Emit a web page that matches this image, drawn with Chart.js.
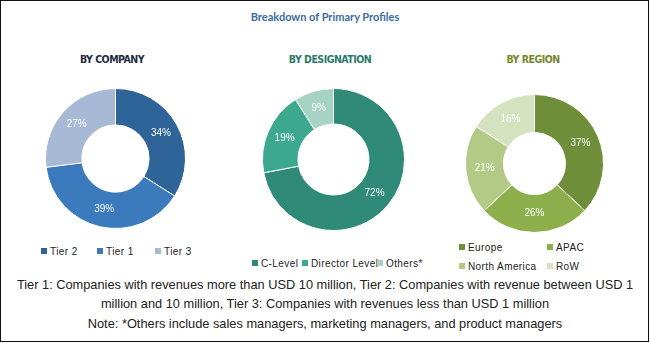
<!DOCTYPE html>
<html>
<head>
<meta charset="utf-8">
<script src="https://cdn.jsdelivr.net/npm/chart.js@4.4.1/dist/chart.umd.min.js"></script>
<style>
  html, body { margin: 0; padding: 0; }
  body {
    width: 650px; height: 343px; position: relative; overflow: hidden;
    background: #fff; font-family: 'Liberation Sans', Arial, sans-serif;
  }
  .frame { position: absolute; left: 0; top: 0; width: 647px; height: 340px; border: 1.5px solid #111; }
  .title {
    position: absolute; left: 0; width: 650px; top: 10px; text-align: center;
    font: bold 11px Lato, sans-serif; color: #3b6e9f;
  }
  .heading {
    position: absolute; top: 53px; width: 160px; text-align: center; letter-spacing: -0.5px;
    font: bold 10.5px 'DejaVu Sans Condensed', 'DejaVu Sans', sans-serif;
  }
  .donut { position: absolute; }
  .legend {
    position: absolute; font-size: 10px; color: #222; letter-spacing: 0.4px;
  }
  .legend .item { position: absolute; white-space: nowrap; line-height: 12px; }
  .legend .box { display: inline-block; width: 6px; height: 6px; margin-right: 3px; vertical-align: 1px; }
  .note {
    position: absolute; left: 0; width: 650px; text-align: center; color: #222;
    font: 12.8px 'Liberation Sans', Arial, sans-serif; line-height: 19px;
  }
</style>
</head>
<body>
<div class="frame"></div>
<div class="title">Breakdown of Primary Profiles</div>

<div class="heading" style="left:32px; color:#1f2d3f;">BY COMPANY</div>
<div class="heading" style="left:250px; color:#2b7a68;">BY DESIGNATION</div>
<div class="heading" style="left:453px; color:#76862c;">BY REGION</div>

<canvas id="companyChart" class="donut" width="141" height="141" style="left:45px; top:88px;"></canvas>
<canvas id="designationChart" class="donut" width="143" height="143" style="left:262px; top:88px;"></canvas>
<canvas id="regionChart" class="donut" width="139" height="139" style="left:465px; top:94px;"></canvas>

<div id="companyLegend" class="legend" style="left:41px; top:246px;"></div>
<div id="designationLegend" class="legend" style="left:252px; top:258px;"></div>
<div id="regionLegend" class="legend" style="left:459px; top:242px;"></div>

<div class="note" style="top:275px;">Tier 1: Companies with revenues more than USD 10 million, Tier 2: Companies with revenue between USD 1<br>million and 10 million, Tier 3: Companies with revenues less than USD 1 million</div>
<div class="note" style="top:314px;">Note: *Others include sales managers, marketing managers, and product managers</div>

<script>
// ---- data ----
const companyLabels = ['Tier 2', 'Tier 1', 'Tier 3'];
const companyValues = [34, 39, 27];
const companyColors = ['#2e6498', '#3b7bbd', '#a8b9d6'];

const designationLabels = ['C-Level', 'Director Level', 'Others*'];
const designationValues = [72, 19, 9];
const designationColors = ['#2f8b77', '#3ca88e', '#a7d3c5'];

const regionLabels = ['Europe', 'APAC', 'North America', 'RoW'];
const regionValues = [37, 26, 21, 16];
const regionColors = ['#6e8e3a', '#8daf4b', '#b3ca86', '#d4e2bf'];

// legend item offsets (layout only)
const companyLegendPos = [[0, 0], [56, 0], [114, 0]];
const designationLegendPos = [[0, 0], [50, 0], [125, 0]];
const regionLegendPos = [[0, 0], [88, 0], [0, 19], [88, 19]];

// draws "NN%" in the middle of each arc
const sliceLabels = {
  id: 'sliceLabels',
  afterDatasetsDraw(chart) {
    const ctx = chart.ctx;
    const meta = chart.getDatasetMeta(0);
    ctx.save();
    ctx.fillStyle = '#fff';
    ctx.font = '10px "Liberation Sans", Arial, sans-serif';
    ctx.textAlign = 'center';
    ctx.textBaseline = 'middle';
    meta.data.forEach((arc, i) => {
      const p = arc.tooltipPosition();
      ctx.fillText(chart.data.datasets[0].data[i] + '%', p.x, p.y);
    });
    ctx.restore();
  }
};

function makeDonut(id, labels, values, colors, cutout) {
  return new Chart(document.getElementById(id), {
    type: 'doughnut',
    data: {
      labels: labels,
      datasets: [{
        data: values,
        backgroundColor: colors,
        borderColor: '#ffffff',
        borderWidth: 1
      }]
    },
    options: {
      responsive: false,
      animation: false,
      cutout: cutout,
      layout: { padding: 0 },
      plugins: { legend: { display: false }, tooltip: { enabled: false } }
    },
    plugins: [sliceLabels]
  });
}

function makeLegend(id, labels, colors, pos) {
  const el = document.getElementById(id);
  labels.forEach((label, i) => {
    const item = document.createElement('div');
    item.className = 'item';
    item.style.left = pos[i][0] + 'px';
    item.style.top = pos[i][1] + 'px';
    item.innerHTML = '<span class="box" style="background:' + colors[i] + '"></span>' + label;
    el.appendChild(item);
  });
}

makeDonut('companyChart', companyLabels, companyValues, companyColors, '48%');
makeDonut('designationChart', designationLabels, designationValues, designationColors, '50%');
makeDonut('regionChart', regionLabels, regionValues, regionColors, '45%');

makeLegend('companyLegend', companyLabels, companyColors, companyLegendPos);
makeLegend('designationLegend', designationLabels, designationColors, designationLegendPos);
makeLegend('regionLegend', regionLabels, regionColors, regionLegendPos);
</script>
</body>
</html>
